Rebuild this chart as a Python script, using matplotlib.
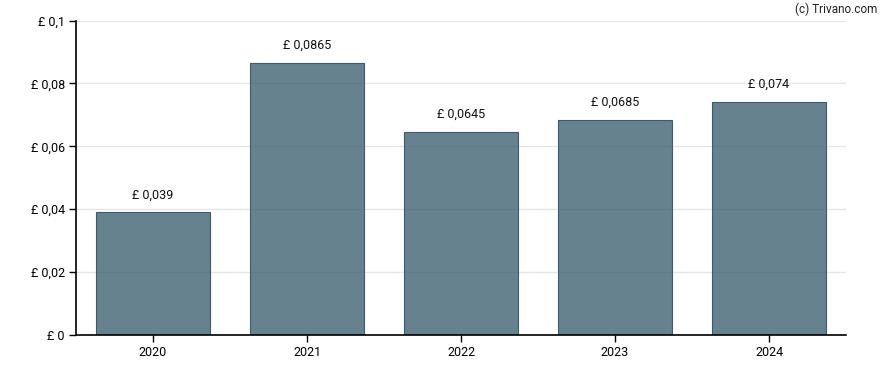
import matplotlib
matplotlib.use('Agg')
import matplotlib.pyplot as plt

plt.rcParams['font.family'] = ['Roboto', 'DejaVu Sans']

years = ['2020', '2021', '2022', '2023', '2024']
values = [0.039, 0.0865, 0.0645, 0.0685, 0.074]
labels = ['£ 0,039', '£ 0,0865', '£ 0,0645', '£ 0,0685', '£ 0,074']
yticks = [0, 0.02, 0.04, 0.06, 0.08, 0.1]
ytick_labels = ['£ 0', '£ 0,02', '£ 0,04', '£ 0,06', '£ 0,08', '£ 0,1']

fig = plt.figure(figsize=(8.88, 3.70), dpi=100)
ax = fig.add_axes([76/888, 1 - 335/370, 770/888, (335 - 20.5)/370])

x = range(len(years))
# semi-transparent bars so the grid shows faintly through them
ax.bar(x, values, width=0.74, color=(0x33/255, 0x58/255, 0x6a/255, 0.75),
       edgecolor='#3e5a6c', linewidth=0.8, zorder=2)
for xi, v, lab in zip(x, values, labels):
    ax.text(xi, v + 0.0035, lab, ha='center', va='bottom', fontsize=9, color='#111111')

ax.set_xlim(-0.5, 4.5)
ax.set_ylim(0, 0.1)
ax.set_xticks(list(x))
ax.set_xticklabels(years, fontsize=9)
ax.set_yticks(yticks)
ax.set_yticklabels(ytick_labels, fontsize=9)
ax.grid(axis='y', color='#e6e6e6', linewidth=1, zorder=1)
ax.set_axisbelow(True)
for s in ['top', 'right']:
    ax.spines[s].set_visible(False)
ax.spines['left'].set_linewidth(1.2)
ax.spines['bottom'].set_linewidth(1.2)
ax.spines['left'].set_zorder(4)
ax.spines['bottom'].set_zorder(4)
ax.tick_params(axis='both', length=5, width=1, pad=3, colors='black')

fig.text(877/888, 1 - 9/370, '(c) Trivano.com', ha='right', va='center', fontsize=8.5, color='#222222')

plt.savefig('out.png', dpi=100)
